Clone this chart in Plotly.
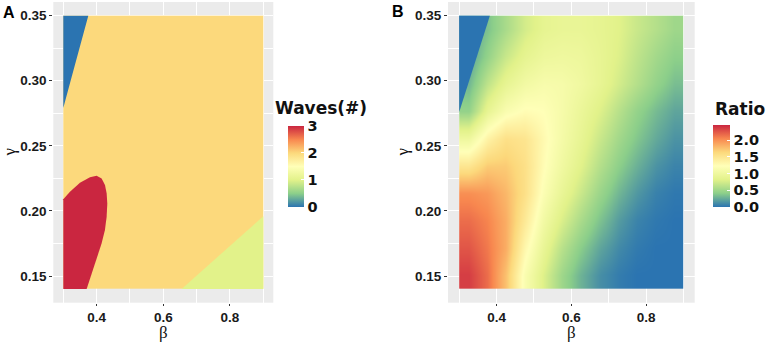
import plotly.graph_objects as go
from plotly.colors import sample_colorscale

# ---------------- data ----------------
beta_ticks = [0.4, 0.6, 0.8]
beta_minor = [0.3, 0.5, 0.7, 0.9]
gamma_ticks = [0.15, 0.20, 0.25, 0.30, 0.35]
gamma_minor = [0.175, 0.225, 0.275, 0.325]

# Panel A: wave-count regions (boundaries)
waves_bg_beta = [0.30, 0.90]
waves_bg_gamma = [0.14, 0.35]
waves_bg_value = 2

wave0_beta = [0.30, 0.375, 0.322, 0.30]
wave0_gamma = [0.35, 0.35, 0.30, 0.279]
wave0_value = 0

wave3_beta = [0.30, 0.30, 0.320, 0.350, 0.380, 0.400, 0.415, 0.425, 0.430, 0.432,
              0.430, 0.425, 0.415, 0.402, 0.388, 0.370]
wave3_gamma = [0.14, 0.2089, 0.2147, 0.2217, 0.2258, 0.2270, 0.2250, 0.2199, 0.2135,
               0.2058, 0.1955, 0.1853, 0.1751, 0.1648, 0.1533, 0.14]
wave3_value = 3

wave1_beta = [0.655, 0.90, 0.90]
wave1_gamma = [0.14, 0.14, 0.196]
wave1_value = 1

# Panel B: ratio field (cell edges and values)
ratio_beta_edges = [0.30, 0.35, 0.40, 0.45, 0.50, 0.55, 0.60, 0.65, 0.70, 0.75, 0.80, 0.85, 0.90]
ratio_gamma_edges = [0.14, 0.161, 0.182, 0.203, 0.224, 0.245, 0.266, 0.287, 0.308, 0.329, 0.35]
ratio_values = [
    [2.35, 2.15, 1.75, 1.15, 0.80, 0.50, 0.28, 0.12, 0.04, 0.00, 0.00, 0.00],
    [2.25, 2.10, 1.85, 1.30, 0.92, 0.62, 0.40, 0.22, 0.10, 0.03, 0.00, 0.00],
    [2.15, 2.05, 1.85, 1.45, 1.05, 0.78, 0.55, 0.35, 0.18, 0.07, 0.02, 0.00],
    [2.00, 1.95, 1.80, 1.55, 1.18, 0.92, 0.70, 0.48, 0.30, 0.16, 0.06, 0.02],
    [1.50, 1.70, 1.70, 1.55, 1.25, 1.02, 0.82, 0.60, 0.42, 0.27, 0.14, 0.07],
    [1.00, 1.35, 1.55, 1.50, 1.28, 1.08, 0.90, 0.70, 0.52, 0.37, 0.24, 0.14],
    [0.45, 0.90, 1.15, 1.25, 1.22, 1.10, 0.95, 0.80, 0.62, 0.45, 0.32, 0.22],
    [0.30, 0.65, 0.90, 1.05, 1.12, 1.10, 1.02, 0.90, 0.75, 0.60, 0.45, 0.33],
    [0.20, 0.45, 0.70, 0.88, 0.98, 1.00, 0.98, 0.90, 0.80, 0.65, 0.52, 0.42],
    [0.20, 0.35, 0.55, 0.75, 0.88, 0.92, 0.92, 0.88, 0.82, 0.70, 0.60, 0.50],
]
ratio_zero_beta = [0.30, 0.382, 0.3266, 0.30]
ratio_zero_gamma = [0.35, 0.35, 0.30, 0.276]
ratio_zero_value = 0
ratio_max = 2.45
ratio_ticks = [0.0, 0.5, 1.0, 1.5, 2.0]
waves_ticks = [0, 1, 2, 3]

# ---------------- styling ----------------
palette = ['#2B74B1', '#8CCF8A', '#E2F28A', '#FFFFB8', '#FCD97C', '#F8874F', '#CA2640']
cscale = [[i / (len(palette) - 1), c] for i, c in enumerate(palette)]
W, H = 768, 344
tickfont = dict(family='Liberation Sans', size=13.5, color='#1a1a1a', weight='bold')
legfont = dict(family='DejaVu Sans', size=14.5, color='#111111', weight='bold')


def wave_color(v):
    return sample_colorscale(cscale, [v / 3.0])[0]


def ratio_color(v):
    return sample_colorscale(cscale, [v / ratio_max])[0]


fig = go.Figure()

# Panel A background (value 2) with the colour bar
fig.add_trace(go.Heatmap(
    x=waves_bg_beta, y=waves_bg_gamma, z=[[waves_bg_value]],
    colorscale=cscale, zmin=0, zmax=3, xaxis='x', yaxis='y', hoverinfo='skip',
    colorbar=dict(x=288.3 / W, xanchor='left', y=1 - 125.7 / H, yanchor='top',
                  len=81, lenmode='pixels', thickness=16, thicknessmode='pixels',
                  xpad=0, ypad=0, outlinewidth=0, tickvals=waves_ticks,
                  ticks='inside', ticklen=3, tickcolor='white', tickfont=legfont),
))

for bx, gy, val in [(wave0_beta, wave0_gamma, wave0_value),
                    (wave3_beta, wave3_gamma, wave3_value),
                    (wave1_beta, wave1_gamma, wave1_value)]:
    fig.add_trace(go.Scatter(x=bx, y=gy, fill='toself', mode='lines',
                             line=dict(width=0), fillcolor=wave_color(val),
                             xaxis='x', yaxis='y', hoverinfo='skip', showlegend=False))

# Panel B
fig.add_trace(go.Heatmap(
    x=ratio_beta_edges, y=ratio_gamma_edges, z=ratio_values, zsmooth='best',
    colorscale=cscale, zmin=0, zmax=ratio_max, xaxis='x2', yaxis='y2', hoverinfo='skip',
    colorbar=dict(x=713.3 / W, xanchor='left', y=1 - 125 / H, yanchor='top',
                  len=82, lenmode='pixels', thickness=17, thicknessmode='pixels',
                  xpad=0, ypad=0, outlinewidth=0, tickvals=ratio_ticks,
                  ticktext=['0.0', '0.5', '1.0', '1.5', '2.0'],
                  ticks='inside', ticklen=3, tickcolor='white', tickfont=legfont),
))
fig.add_trace(go.Scatter(x=ratio_zero_beta, y=ratio_zero_gamma, fill='toself', mode='lines',
                         line=dict(width=0), fillcolor=ratio_color(ratio_zero_value),
                         xaxis='x2', yaxis='y2', hoverinfo='skip', showlegend=False))


def xax(domain, anchor):
    return dict(domain=domain, anchor=anchor, range=[0.27, 0.93],
                tickvals=beta_ticks, ticktext=[f'{v:.1f}' for v in beta_ticks],
                showgrid=True, gridcolor='white', gridwidth=1.1, zeroline=False,
                showline=False, ticks='outside', ticklen=2.5, tickcolor='#333333',
                tickfont=tickfont, fixedrange=True, automargin=False,
                minor=dict(tickvals=beta_minor, showgrid=True, gridcolor='white',
                           gridwidth=0.5, ticks=''))


def yax(domain, anchor):
    return dict(domain=domain, anchor=anchor, range=[0.1295, 0.3605],
                tickvals=gamma_ticks, ticktext=[f'{v:.2f}' for v in gamma_ticks],
                showgrid=True, gridcolor='white', gridwidth=1.1, zeroline=False,
                showline=False, ticks='outside', ticklen=3, tickcolor='#333333',
                tickfont=tickfont, fixedrange=True, automargin=False,
                minor=dict(tickvals=gamma_minor, showgrid=True, gridcolor='white',
                           gridwidth=0.5, ticks=''))


ydom = [1 - 302.7 / H, 1 - 2 / H]
fig.update_layout(
    width=W, height=H, margin=dict(l=0, r=0, t=0, b=0, autoexpand=False),
    paper_bgcolor='white', plot_bgcolor='#EBEBEB', showlegend=False,
    xaxis=xax([53.3 / W, 273.3 / W], 'y'),
    yaxis=yax(ydom, 'x'),
    xaxis2=xax([448 / W, 694.7 / W], 'y2'),
    yaxis2=yax(ydom, 'x2'),
)

serif = dict(family='Liberation Serif', size=17, color='#111111')
ann = [
    dict(text='A', x=9 / W, y=1 - 13 / H, font=dict(family='Liberation Sans', size=16, color='black', weight='bold')),
    dict(text='B', x=398 / W, y=1 - 12 / H, font=dict(family='Liberation Sans', size=16, color='black', weight='bold')),
    dict(text='β', x=163.3 / W, y=1 - 332 / H, font=serif),
    dict(text='β', x=571.3 / W, y=1 - 332 / H, font=serif),
    dict(text='γ', x=9 / W, y=1 - 152.4 / H, font=serif, textangle=-90),
    dict(text='γ', x=402 / W, y=1 - 152.4 / H, font=serif, textangle=-90),
]
for a in ann:
    fig.add_annotation(xref='paper', yref='paper', showarrow=False,
                       xanchor='center', yanchor='middle', **a)
fig.add_annotation(text='Waves(#)', xref='paper', yref='paper', x=273 / W, y=1 - 108 / H,
                   xanchor='left', yanchor='middle', showarrow=False,
                   font=dict(family='DejaVu Sans', size=17, color='#111111', weight='bold'))
fig.add_annotation(text='Ratio', xref='paper', yref='paper', x=713 / W, y=1 - 109 / H,
                   xanchor='left', yanchor='middle', showarrow=False,
                   font=dict(family='DejaVu Sans', size=17, color='#111111', weight='bold'))

fig.write_html('out.html', config={'displayModeBar': False},
               post_script="document.body.style.margin='0';document.body.style.overflow='hidden';")
